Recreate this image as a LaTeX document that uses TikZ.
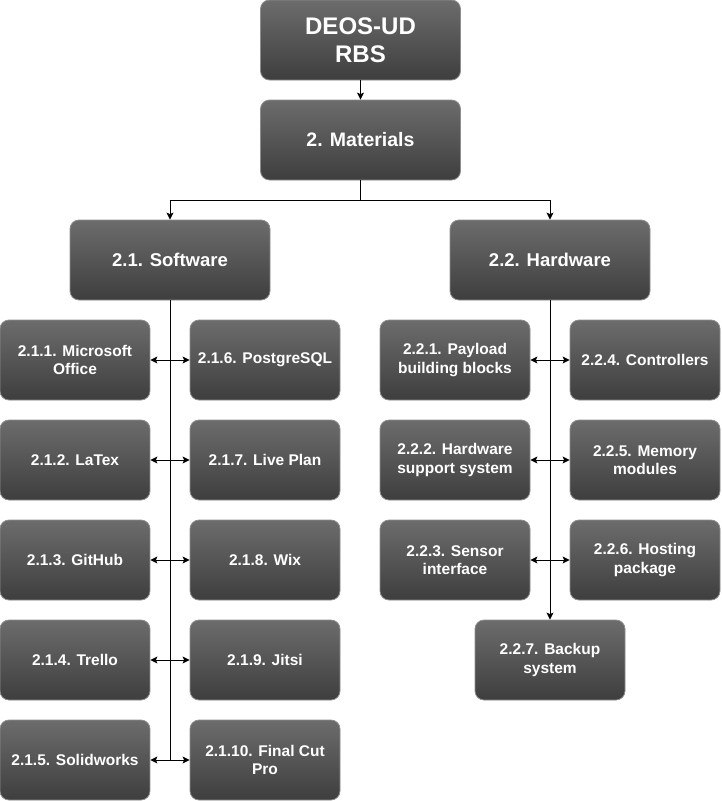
\documentclass[tikz,border=0pt]{standalone}
\usepackage{fontspec}
\setmainfont{Liberation Sans}
\usepackage{tikz}
\usetikzlibrary{arrows.meta}

\definecolor{boxtop}{HTML}{6C6C6C}
\definecolor{boxbot}{HTML}{3E3E3E}
\definecolor{boxrim}{HTML}{8E8E8E}

\tikzset{
    wbsbox/.style={rounded corners=9pt, draw=boxrim, line width=0.8pt,
        top color=boxtop, bottom color=boxbot, text=white, align=center,
        font=\bfseries\fontsize{15.5}{18.5}\selectfont,
        minimum width=150pt, minimum height=80pt, inner sep=2pt},
    mainbox/.style={wbsbox, minimum width=200pt},
    link/.style={line width=1pt, black},
    tip/.tip={Stealth[length=7pt, width=7pt, inset=1.5pt]}
}

\begin{document}
\begin{tikzpicture}[x=1pt, y=-1pt]
    \useasboundingbox (0,0) rectangle (721,801);

    % top levels
    \node[mainbox, font=\bfseries\fontsize{24}{28}\selectfont] (rbs) at (360.5,40) {DEOS-UD\\RBS};
    \node[mainbox, font=\bfseries\fontsize{19.5}{23}\selectfont] (mat) at (360.5,140) {2. Materials};
    \node[mainbox, font=\bfseries\fontsize{18.5}{22}\selectfont] (sw) at (170,260) {2.1. Software};
    \node[mainbox, font=\bfseries\fontsize{18.5}{22}\selectfont] (hw) at (550,260) {2.2. Hardware};

    % software items
    \node[wbsbox] (s1) at (75,360) {2.1.1. Microsoft\\Office};
    \node[wbsbox] (s2) at (75,460) {2.1.2. LaTex};
    \node[wbsbox] (s3) at (75,560) {2.1.3. GitHub};
    \node[wbsbox] (s4) at (75,660) {2.1.4. Trello};
    \node[wbsbox] (s5) at (75,760) {2.1.5. Solidworks};
    \node[wbsbox] (s6) at (265,360) {2.1.6. PostgreSQL};
    \node[wbsbox] (s7) at (265,460) {2.1.7. Live Plan};
    \node[wbsbox] (s8) at (265,560) {2.1.8. Wix};
    \node[wbsbox] (s9) at (265,660) {2.1.9. Jitsi};
    \node[wbsbox] (s10) at (265,760) {2.1.10. Final Cut\\Pro};

    % hardware items
    \node[wbsbox] (h1) at (455,360) {2.2.1. Payload\\building blocks};
    \node[wbsbox] (h2) at (455,460) {2.2.2. Hardware\\support system};
    \node[wbsbox] (h3) at (455,560) {2.2.3. Sensor\\interface};
    \node[wbsbox] (h4) at (645,360) {2.2.4. Controllers};
    \node[wbsbox] (h5) at (645,460) {2.2.5. Memory\\modules};
    \node[wbsbox] (h6) at (645,560) {2.2.6. Hosting\\package};
    \node[wbsbox] (h7) at (550,660) {2.2.7. Backup\\system};

    \coordinate (swend) at (170,760);

    % connectors
    \draw[link, -tip] (rbs) -- (mat);
    \draw[link, -tip] (mat.south) -- ++(0,20) -| (sw.north);
    \draw[link, -tip] (mat.south) -- ++(0,20) -| (hw.north);
    \draw[link] (sw.south) -- (swend);
    \draw[link, -tip] (hw.south) -- (h7.north);

    \foreach \a/\b in {s1/s6, s2/s7, s3/s8, s4/s9, s5/s10, h1/h4, h2/h5, h3/h6}
        \draw[link, tip-tip] (\a.east) -- (\b.west);
\end{tikzpicture}
\end{document}
